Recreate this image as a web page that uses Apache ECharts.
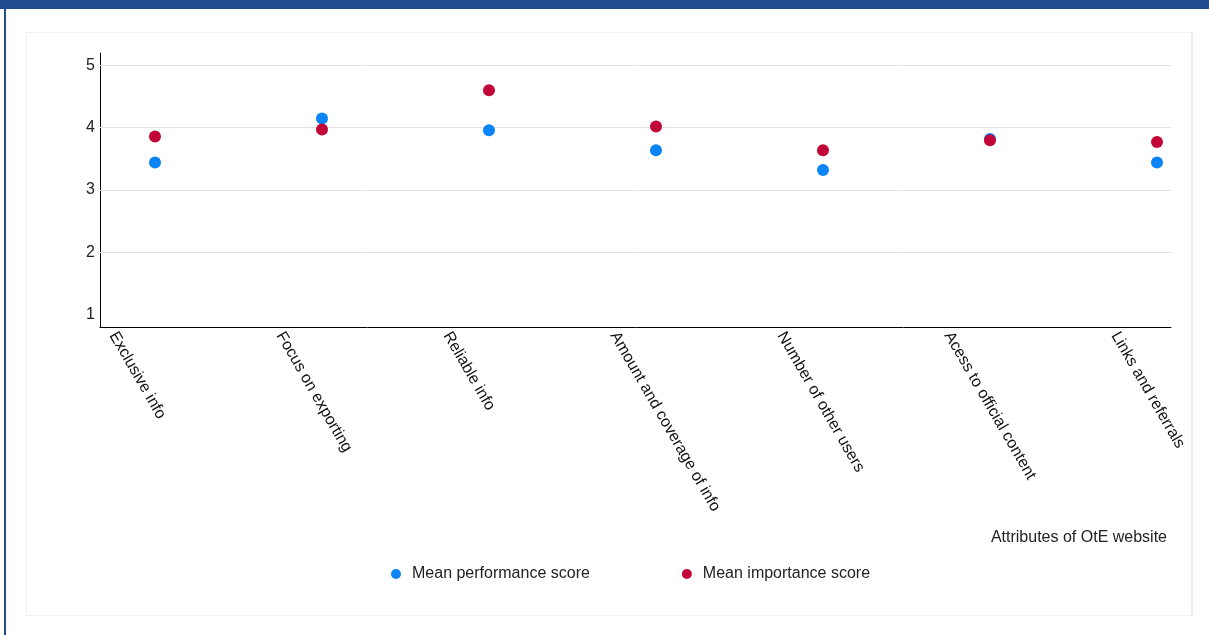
<!DOCTYPE html>
<html>
<head>
<meta charset="utf-8">
<script src="https://cdn.jsdelivr.net/npm/echarts@6/dist/echarts.min.js"></script>
<style>
  html, body { margin: 0; padding: 0; background: #ffffff; }
  body { width: 1209px; height: 635px; overflow: hidden; position: relative; }
  .topbar { position: absolute; left: 0; top: 0; width: 1209px; height: 9px; background: #224a8e; }
  .leftbar { position: absolute; left: 4px; top: 0; width: 2px; height: 635px; background: #224a8e; }
  .panel { position: absolute; left: 26px; top: 32px; width: 1164px; height: 582px;
           border: 1px solid #eef0f2; border-right: 2px solid #e6eef2; }
  #chart { position: absolute; left: 0; top: 0; width: 1209px; height: 635px; }
</style>
</head>
<body>
<div class="topbar"></div>
<div class="leftbar"></div>
<div class="panel"></div>
<div id="chart"></div>
<script>
const categories = [
  'Exclusive info',
  'Focus on exporting',
  'Reliable info',
  'Amount and coverage of info',
  'Number of other users',
  'Acess to official content',
  'Links and referrals'
];
const performanceScores = [3.44, 4.15, 3.96, 3.64, 3.32, 3.82, 3.44];
const importanceScores = [3.86, 3.97, 4.60, 4.02, 3.64, 3.80, 3.77];
const yTickLabels = [1, 2, 3, 4, 5];
const yGridValues = [2, 3, 4, 5];
const seriesNames = ['Mean performance score', 'Mean importance score'];
const xAxisTitle = 'Attributes of OtE website';

const FONT = '"Liberation Sans", Arial, sans-serif';
const xMin = -0.3293, xMax = 6.0838;
const labelShift = 0.252;
const catIdx = categories.map((c, i) => i);

function isInt(v) { return Math.abs(v - Math.round(v)) < 1e-9; }

const chart = echarts.init(document.getElementById('chart'), null, { renderer: 'canvas' });
chart.setOption({
  animation: false,
  backgroundColor: 'transparent',
  textStyle: { fontFamily: FONT },
  title: {
    text: xAxisTitle,
    right: 37,
    top: 525,
    textStyle: { fontFamily: FONT, fontSize: 16, fontWeight: 'normal', color: '#222222' }
  },
  legend: {
    data: seriesNames,
    left: 386,
    top: 561,
    icon: 'circle',
    itemWidth: 22,
    itemHeight: 10,
    itemGap: 92,
    textStyle: { fontFamily: FONT, fontSize: 16, color: '#222222' }
  },
  grid: { left: 100, right: 38, top: 53, bottom: 308, containLabel: false },
  xAxis: [
    {
      type: 'value',
      min: xMin,
      max: xMax,
      position: 'bottom',
      axisLine: { show: true, onZero: false, lineStyle: { color: '#000000', width: 1 } },
      axisTick: { show: false },
      axisLabel: { show: false },
      splitLine: { show: false }
    },
    {
      type: 'value',
      min: xMin + labelShift,
      max: xMax + labelShift,
      position: 'bottom',
      axisLine: { show: false, onZero: false },
      axisTick: { show: false },
      splitLine: { show: false },
      axisLabel: {
        show: true,
        customValues: catIdx,
        rotate: -60,
        margin: 6,
        fontFamily: FONT,
        fontSize: 16,
        color: '#111111',
        formatter: function (v) {
          return isInt(v) && categories[Math.round(v)] !== undefined ? categories[Math.round(v)] : '';
        }
      }
    }
  ],
  yAxis: {
    type: 'value',
    min: 0.8,
    max: 5.2,
    axisLine: { show: true, onZero: false, lineStyle: { color: '#000000', width: 1 } },
    axisTick: { show: false },
    splitLine: { show: false },
    axisLabel: {
      customValues: yTickLabels,
      margin: 5,
      fontFamily: FONT,
      fontSize: 16,
      color: '#222222',
      formatter: function (v) { return isInt(v) ? String(Math.round(v)) : ''; }
    }
  },
  series: [
    {
      type: 'line',
      name: 'grid',
      data: [],
      z: 1,
      silent: true,
      markLine: {
        silent: true,
        z: 1,
        symbol: ['none', 'none'],
        label: { show: false },
        lineStyle: { color: '#e2e2e2', width: 1, type: 'solid' },
        emphasis: { disabled: true },
        data: yGridValues.map(v => ({ yAxis: v }))
      }
    },
    {
      type: 'scatter',
      name: seriesNames[0],
      xAxisIndex: 0,
      z: 3,
      symbol: 'circle',
      symbolSize: 12,
      itemStyle: { color: '#0a84f7', opacity: 1 },
      data: performanceScores.map((v, i) => [i, v])
    },
    {
      type: 'scatter',
      name: seriesNames[1],
      xAxisIndex: 0,
      z: 4,
      symbol: 'circle',
      symbolSize: 12,
      itemStyle: { color: '#c20538', opacity: 1 },
      data: importanceScores.map((v, i) => [i, v])
    }
  ]
});
</script>
</body>
</html>
